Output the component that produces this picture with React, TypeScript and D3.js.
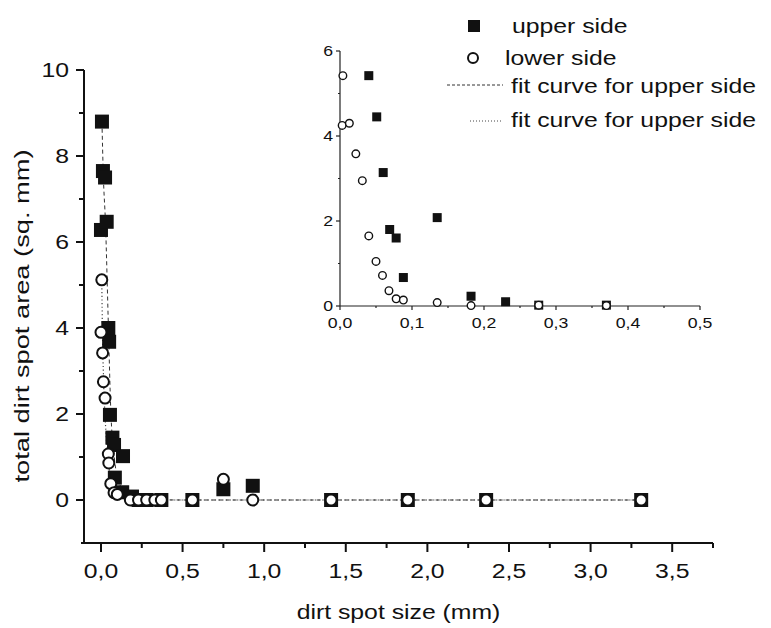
import React from "react";
import * as d3 from "d3";

// main plot: dirt spot size (mm) vs total dirt spot area (sq. mm)
const mainUpper: [number, number][] = [
  [0.006, 8.8], [0.012, 7.65], [0.025, 7.5], [0.0, 6.28], [0.035, 6.47],
  [0.045, 4.0], [0.05, 3.68], [0.055, 1.98], [0.07, 1.45], [0.08, 1.28],
  [0.135, 1.02], [0.085, 0.52], [0.13, 0.18], [0.19, 0.08], [0.23, 0.0],
  [0.28, 0.0], [0.37, 0.0], [0.56, 0.0], [0.75, 0.25], [0.93, 0.33],
  [1.41, 0.0], [1.88, 0.0], [2.36, 0.0], [3.31, 0.0],
];
const mainLower: [number, number][] = [
  [0.005, 5.12], [0.0, 3.9], [0.01, 3.42], [0.015, 2.75], [0.025, 2.37],
  [0.045, 1.07], [0.048, 0.86], [0.06, 0.38], [0.08, 0.17], [0.1, 0.13],
  [0.18, 0.0], [0.23, 0.0], [0.28, 0.0], [0.33, 0.0], [0.37, 0.0],
  [0.56, 0.0], [0.75, 0.48], [0.93, 0.0], [1.41, 0.0], [1.88, 0.0],
  [2.36, 0.0], [3.31, 0.0],
];
const fitUpper: [number, number][] = [
  [0.006, 8.8], [0.014, 7.6], [0.028, 6.4], [0.045, 4.1], [0.06, 2.1],
  [0.08, 1.05], [0.11, 0.42], [0.16, 0.12], [0.25, 0.02], [0.5, 0.0], [3.31, 0.0],
];
const fitLower: [number, number][] = [
  [0.005, 5.1], [0.009, 3.9], [0.016, 2.8], [0.03, 1.6], [0.05, 0.75],
  [0.08, 0.25], [0.13, 0.05], [0.25, 0.0], [3.31, 0.0],
];

// inset
const insetUpper: [number, number][] = [
  [0.04, 5.42], [0.051, 4.45], [0.06, 3.14], [0.069, 1.8], [0.078, 1.6],
  [0.088, 0.67], [0.135, 2.08], [0.182, 0.23], [0.23, 0.1], [0.276, 0.02], [0.37, 0.02],
];
const insetLower: [number, number][] = [
  [0.004, 5.42], [0.003, 4.25], [0.013, 4.3], [0.022, 3.58], [0.031, 2.95],
  [0.04, 1.65], [0.05, 1.05], [0.059, 0.72], [0.068, 0.36], [0.078, 0.17],
  [0.088, 0.14], [0.135, 0.08], [0.182, 0.01], [0.276, 0.02], [0.37, 0.01],
];

const mainXTicks = [0, 0.5, 1, 1.5, 2, 2.5, 3, 3.5];
const mainXMinor = [0.25, 0.75, 1.25, 1.75, 2.25, 2.75, 3.25, 3.75];
const mainYTicks = [0, 2, 4, 6, 8, 10];
const mainYMinor = [1, 3, 5, 7, 9];
const insetXTicks = [0, 0.1, 0.2, 0.3, 0.4, 0.5];
const insetXMinor = [0.05, 0.15, 0.25, 0.35, 0.45];
const insetYTicks = [0, 2, 4, 6];
const insetYMinor = [1, 3, 5];

const legendLabels = ["upper side", "lower side", "fit curve for upper side", "fit curve for upper side"];
const xTitle = "dirt spot size (mm)";
const yTitle = "total dirt spot area (sq. mm)";

const FONT = "'Liberation Sans', Arial, Helvetica, sans-serif";
const SX = 1.18;

const fmt1 = (v: number) => d3.format(".1f")(v).replace(".", ",");

function T({ x, y, size, anchor = "start", children }: any) {
  return (
    <text
      transform={`translate(${x},${y}) scale(${SX},1)`}
      fontSize={size}
      fontFamily={FONT}
      textAnchor={anchor}
      fill="#111"
    >
      {children}
    </text>
  );
}

export default function App() {
  const xM = d3.scaleLinear().domain([-0.104, 3.75]).range([84, 713]);
  const yM = d3.scaleLinear().domain([-1, 10]).range([543, 70]);
  const xI = d3.scaleLinear().domain([0, 0.5]).range([340, 700]);
  const yI = d3.scaleLinear().domain([0, 6]).range([306, 51]);

  const lineM = d3
    .line<[number, number]>()
    .x((d) => xM(d[0]))
    .y((d) => yM(d[1]))
    .curve(d3.curveMonotoneX);

  const [x0, x1] = xM.range();
  const [yb, yt] = yM.range();

  return (
    <svg
      width={771}
      height={628}
      style={{ position: "absolute", left: 0, top: 0, background: "#fff" }}
    >
      <rect width={771} height={628} fill="#fff" />

      {/* fit curves */}
      <path d={lineM(fitUpper) || ""} fill="none" stroke="#333" strokeWidth={1} strokeDasharray="4,3" />
      <path d={lineM(fitLower) || ""} fill="none" stroke="#444" strokeWidth={1.2} strokeDasharray="1.2,2.5" />

      {/* main axes */}
      <g stroke="#111" strokeWidth={2}>
        <line x1={x0} x2={x0} y1={yb} y2={yt} />
        <line x1={x0 - 3} x2={x1} y1={yb} y2={yb} />
        {mainYTicks.map((t) => (
          <line key={"ym" + t} x1={x0 - 8} x2={x0} y1={yM(t)} y2={yM(t)} />
        ))}
        {mainYMinor.map((t) => (
          <line key={"yn" + t} x1={x0 - 5} x2={x0} y1={yM(t)} y2={yM(t)} />
        ))}
        {mainXTicks.map((t) => (
          <line key={"xm" + t} x1={xM(t)} x2={xM(t)} y1={yb} y2={yb + 9} />
        ))}
        {mainXMinor.map((t) => (
          <line key={"xn" + t} x1={xM(t)} x2={xM(t)} y1={yb} y2={yb + 5} />
        ))}
      </g>
      {mainYTicks.map((t) => (
        <T key={"yl" + t} x={69} y={yM(t) + 7} size={21} anchor="end">
          {String(t)}
        </T>
      ))}
      {mainXTicks.map((t) => (
        <T key={"xl" + t} x={xM(t)} y={578} size={21} anchor="middle">
          {fmt1(t)}
        </T>
      ))}
      <T x={(x0 + x1) / 2} y={619} size={21} anchor="middle">
        {xTitle}
      </T>
      <text
        transform="translate(29,316) rotate(-90)"
        fontSize={21}
        fontFamily={FONT}
        textAnchor="middle"
        textLength={333}
        lengthAdjust="spacingAndGlyphs"
        fill="#111"
      >
        {yTitle}
      </text>

      {/* main markers */}
      {mainUpper.map((d, i) => (
        <rect key={"mu" + i} x={xM(d[0]) - 7} y={yM(d[1]) - 7} width={14} height={14} fill="#111" />
      ))}
      {mainLower.map((d, i) => (
        <circle key={"ml" + i} cx={xM(d[0])} cy={yM(d[1])} r={5.5} fill="#fff" stroke="#111" strokeWidth={2} />
      ))}

      {/* inset axes */}
      <g stroke="#222" strokeWidth={1.2}>
        <line x1={340} x2={340} y1={306} y2={51} />
        <line x1={340} x2={700} y1={306} y2={306} />
        {insetYTicks.map((t) => (
          <line key={"iy" + t} x1={336} x2={340} y1={yI(t)} y2={yI(t)} />
        ))}
        {insetYMinor.map((t) => (
          <line key={"iyn" + t} x1={338} x2={340} y1={yI(t)} y2={yI(t)} />
        ))}
        {insetXTicks.map((t) => (
          <line key={"ix" + t} x1={xI(t)} x2={xI(t)} y1={306} y2={310} />
        ))}
        {insetXMinor.map((t) => (
          <line key={"ixn" + t} x1={xI(t)} x2={xI(t)} y1={306} y2={308} />
        ))}
      </g>
      {insetYTicks.map((t) => (
        <T key={"iyl" + t} x={333} y={yI(t) + 5} size={15} anchor="end">
          {String(t)}
        </T>
      ))}
      {insetXTicks.map((t) => (
        <T key={"ixl" + t} x={xI(t)} y={328} size={15} anchor="middle">
          {fmt1(t)}
        </T>
      ))}
      {insetUpper.map((d, i) => (
        <rect key={"iu" + i} x={xI(d[0]) - 4.5} y={yI(d[1]) - 4.5} width={9} height={9} fill="#111" />
      ))}
      {insetLower.map((d, i) => (
        <circle key={"il" + i} cx={xI(d[0])} cy={yI(d[1])} r={3.8} fill="#fff" stroke="#111" strokeWidth={1.4} />
      ))}

      {/* legend */}
      <rect x={468} y={20} width={12} height={12} fill="#111" />
      <circle cx={473} cy={58} r={5} fill="#fff" stroke="#111" strokeWidth={2} />
      <line x1={447} x2={503} y1={85} y2={85} stroke="#333" strokeWidth={1} strokeDasharray="3,2" />
      <line x1={470} x2={502} y1={121} y2={121} stroke="#444" strokeWidth={1} strokeDasharray="1,2" />
      <T x={512} y={33} size={21}>{legendLabels[0]}</T>
      <T x={505} y={65} size={21}>{legendLabels[1]}</T>
      <T x={511} y={93} size={21}>{legendLabels[2]}</T>
      <T x={511} y={127} size={21}>{legendLabels[3]}</T>
    </svg>
  );
}
